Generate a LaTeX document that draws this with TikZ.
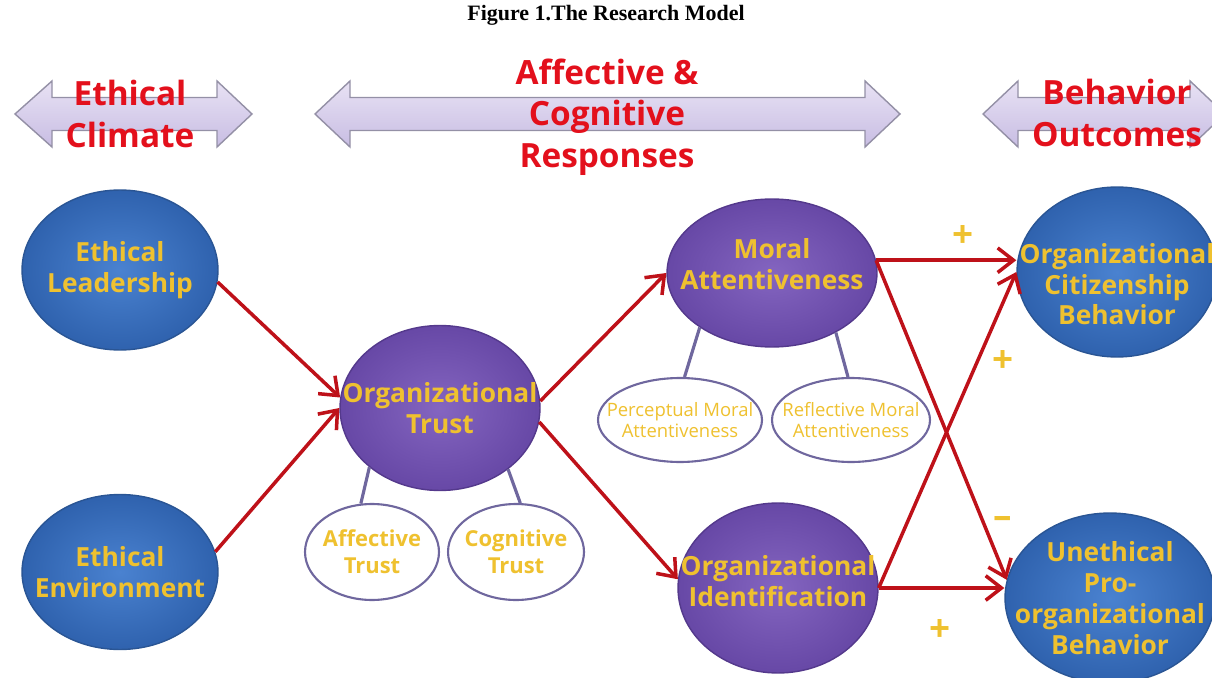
\documentclass[tikz,border=0pt]{standalone}
\usepackage{fontspec}
\setmainfont{Liberation Serif}
\newfontfamily\gothfont{Open Sans}
\usetikzlibrary{shapes.geometric,arrows.meta}

\definecolor{hdred}{HTML}{E3101C}
\definecolor{gold}{HTML}{EFC12F}
\definecolor{blueinner}{HTML}{4A82D0}
\definecolor{blueouter}{HTML}{2F62AE}
\definecolor{blueedge}{HTML}{2A5594}
\definecolor{purpinner}{HTML}{8465C0}
\definecolor{purpouter}{HTML}{6748A6}
\definecolor{purpedge}{HTML}{54398C}
\definecolor{linkred}{HTML}{BE1119}
\definecolor{ringline}{HTML}{6F679E}
\definecolor{bandtop}{HTML}{E8E2F4}
\definecolor{bandbot}{HTML}{C8BDE3}
\definecolor{bandedge}{HTML}{9490A6}

\tikzset{
  balltext/.style={text=gold, align=center, inner sep=0pt,
    font=\gothfont\bfseries\fontsize{15}{17.5}\selectfont},
  ringtext/.style={text=gold, align=center, inner sep=0pt,
    font=\gothfont\bfseries\fontsize{12.5}{15.5}\selectfont},
  smalltext/.style={text=gold, align=center, inner sep=0pt,
    font=\gothfont\fontsize{10.5}{11.5}\selectfont},
  blueball/.style={ellipse, inner sep=0pt, draw=blueedge, line width=0.8pt,
    inner color=blueinner, outer color=blueouter},
  purpball/.style={ellipse, inner sep=0pt, draw=purpedge, line width=0.8pt,
    inner color=purpinner, outer color=purpouter},
  ring/.style={ellipse, draw=ringline, line width=1.2pt, fill=white, inner sep=0pt},
  link/.style={draw=linkred, line width=2pt,
    -{Straight Barb[length=9pt,width=14pt]}},
  tie/.style={draw=ringline, line width=1.8pt},
  band/.style={draw=bandedge, line width=0.8pt, top color=bandtop,
    bottom color=bandbot},
  head/.style={text=hdred, align=center,
    font=\gothfont\bfseries\fontsize{19}{23.5}\selectfont},
  sign/.style={text=gold, font=\gothfont\bfseries\fontsize{21}{21}\selectfont}
}

\begin{document}
\begin{tikzpicture}[x=0.02cm, y=-0.02cm]
  \useasboundingbox (0,0) rectangle (1212,678);

  % Title
  \node[font=\bfseries\fontsize{12.5}{12.5}\selectfont] (title) at (606,15) {Figure 1.The Research Model};

  % Band arrows at the top
  \foreach \a/\b/\c/\d in {15/52/217/252, 315/350/865/900, 983/1018/1190/1225}
    \draw[band] (\a,114) -- (\b,81) -- (\b,97.5) -- (\c,97.5) -- (\c,81) -- (\d,114)
      -- (\c,147) -- (\c,130.5) -- (\b,130.5) -- (\b,147) -- cycle;

  \node[head] (climate) at (130,114) {Ethical\\Climate};
  \node[head] (responses) at (607,117) {Affective \&\\Cognitive\\Responses};
  \node[head] (outcomes) at (1117,113) {Behavior\\Outcomes};

  % Ethical climate
  \node[blueball, minimum width=3.92cm, minimum height=3.2cm,
    label={[balltext]center:Ethical\\Leadership}] (lead) at (120,270) {};
  \node[blueball, minimum width=3.92cm, minimum height=3.1cm,
    label={[balltext]center:Ethical\\Environment}] (env) at (120,572) {};

  % Responses
  \node[purpball, minimum width=4.0cm, minimum height=3.3cm,
    label={[balltext]center:Organizational\\Trust}] (trust) at (440,408) {};
  \node[purpball, minimum width=4.2cm, minimum height=2.96cm,
    label={[balltext, yshift=5pt]center:Moral\\Attentiveness}] (moral) at (772,273) {};
  \node[purpball, minimum width=4.0cm, minimum height=3.4cm,
    label={[balltext, yshift=4pt]center:Organizational\\Identification}] (ident) at (778,588) {};

  % Sub-dimensions
  \node[ring, minimum width=2.68cm, minimum height=1.92cm,
    label={[ringtext]center:Affective\\Trust}] (aff) at (372,552) {};
  \node[ring, minimum width=2.72cm, minimum height=1.92cm,
    label={[ringtext]center:Cognitive\\Trust}] (cog) at (516,552) {};
  \node[ring, minimum width=3.28cm, minimum height=1.68cm,
    label={[smalltext]center:Perceptual Moral\\Attentiveness}] (percep) at (680,420) {};
  \node[ring, minimum width=3.16cm, minimum height=1.68cm,
    label={[smalltext]center:Reflective Moral\\Attentiveness}] (reflect) at (851,420) {};

  \draw[tie] (trust.220) -- (aff.103);
  \draw[tie] (trust.318) -- (cog.85);
  \draw[tie] (moral.217) -- (percep.84);
  \draw[tie] (moral.317) -- (reflect.94);

  % Outcomes
  \node[blueball, minimum width=4.0cm, minimum height=3.4cm,
    label={[balltext, yshift=-7pt]center:Organizational\\Citizenship\\Behavior}] (ocb) at (1117,272) {};
  \node[blueball, minimum width=4.2cm, minimum height=3.4cm,
    label={[balltext]center:Unethical\\Pro-\\organizational\\Behavior}] (upb) at (1110,598) {};

  % Paths
  \draw[link] (lead.353) -- (trust.174);
  \draw[link] (env.12) -- (trust.180);
  \draw[link] (trust.4) -- (moral.west);
  \draw[link] (trust.352) -- (ident.175);
  \draw[link] (moral.7) -- (moral.7 -| ocb.west);
  \draw[link] (moral.7) -- (upb.170);
  \draw[link] (ident.east) -- (ocb.180);
  \draw[link] (ident.east) -- (ident.east -| upb.west);

  % Signs
  \node[sign] (s1) at (963,237) {+};
  \node[sign] (s2) at (1003,362) {+};
  \node[sign] (s3) at (1003,522) {–};
  \node[sign] (s4) at (940,630) {+};
\end{tikzpicture}
\end{document}
